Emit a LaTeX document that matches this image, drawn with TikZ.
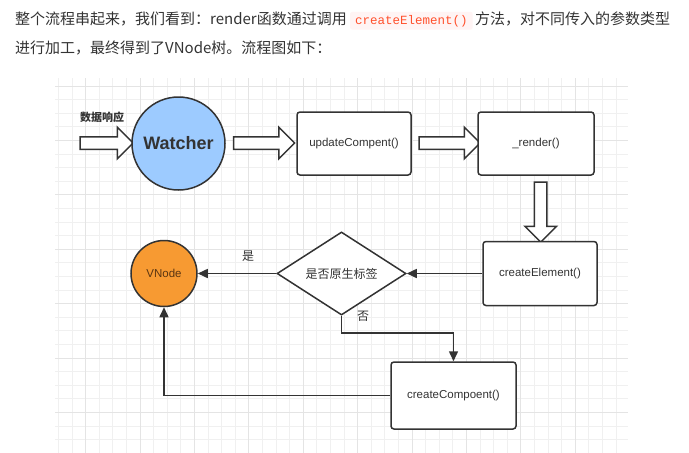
\documentclass[tikz,border=0pt]{standalone}
\usepackage{fontspec}
\setmainfont{Noto Sans CJK SC}
\newfontfamily\hv{Liberation Sans}
\newfontfamily\codefont{Liberation Mono}
\usetikzlibrary{shapes.geometric,shapes.arrows,arrows.meta}
\definecolor{ink}{HTML}{333333}
\definecolor{txt}{HTML}{333333}
\definecolor{codered}{HTML}{FF502C}
\definecolor{codebg}{HTML}{FFF4F4}
\definecolor{gridminor}{HTML}{F0F0F0}
\definecolor{gridmajor}{HTML}{E4E4E4}
\definecolor{watcherblue}{HTML}{9DCBFF}
\definecolor{vnodeorange}{HTML}{F79A32}
\definecolor{vnodetext}{HTML}{5A3511}
\tikzset{
  para/.style={inner sep=0pt, text=txt, font=\fontsize{15}{18}\selectfont},
  codebox/.style={inner xsep=5pt, inner ysep=3pt, fill=codebg, rounded corners=2pt, text=codered, font=\codefont\fontsize{12.5}{14}\selectfont},
  boxnode/.style={draw=ink, line width=1.5pt, rounded corners=3pt, fill=white, text=txt, font=\hv\fontsize{11.5}{13}\selectfont},
  blockarrow/.style={single arrow, draw=ink, line width=1.5pt, fill=white, inner xsep=0pt, inner ysep=5.5pt, single arrow head extend=9.5pt, single arrow tip angle=90, anchor=center},
  conn/.style={draw=ink, line width=1.5pt, -{Triangle[length=10pt,width=9pt]}},
  lbl/.style={text=txt, font=\fontsize{12}{14}\selectfont, inner sep=0pt},
}
\begin{document}
\begin{tikzpicture}[x=1pt,y=-1pt]
\useasboundingbox (0,0) rectangle (689,453);
\fill[white] (0,0) rectangle (689,453);
% grid
\begin{scope}
\clip (55,78) rectangle (628,453);
\foreach \k in {-2,...,39} \draw[gridminor, line width=1pt] ({85.7+13.6*\k},78) -- ({85.7+13.6*\k},453);
\foreach \k in {-20,...,7} \draw[gridminor, line width=1pt] (55,{358+13.6*\k}) -- (628,{358+13.6*\k});
\foreach \k in {0,4,...,36} \draw[gridmajor, line width=1pt] ({85.7+13.6*\k},78) -- ({85.7+13.6*\k},453);
\foreach \k in {-20,-16,...,4} \draw[gridmajor, line width=1pt] (55,{358+13.6*\k}) -- (628,{358+13.6*\k});
\end{scope}
% paragraph
\node[para, anchor=base west] (t1) at (15,24) {整个流程串起来，我们看到：render函数通过调用};
\node[codebox, anchor=base west] (code) at ([xshift=3pt]t1.base east) {createElement()};
\node[para, anchor=base west] (t2) at ([xshift=2pt]code.base east) {方法，对不同传入的参数类型};
\node[para, anchor=base west] (t3) at (15,53) {进行加工，最终得到了VNode树。流程图如下：};
% diagram nodes
\node[lbl, font=\bfseries\fontsize{11}{13}\selectfont] (l0) at (102,117) {数据响应};
\node[blockarrow, minimum height=53pt] (a1) at (103.5,143) {};
\node[circle, draw=ink, line width=1.5pt, fill=watcherblue, minimum size=93pt, inner sep=0pt, text=ink, font=\hv\bfseries\fontsize{18}{20}\selectfont] (watcher) at (178.5,143.5) {Watcher};
\node[blockarrow, minimum height=61pt] (a2) at (261,143) {};
\node[boxnode, minimum width=114pt, minimum height=63pt] (upd) at (354,143.5) {updateCompent()};
\node[blockarrow, minimum height=61pt] (a3) at (446.5,143) {};
\node[boxnode, minimum width=116pt, minimum height=63pt] (rend) at (536,143.5) {\_render()};
\node[blockarrow, minimum height=60pt, rotate=-90] (a4) at (540.7,209) {};
\node[boxnode, minimum width=114pt, minimum height=64pt] (ce) at (540,273.5) {createElement()};
\node[diamond, draw=ink, line width=1.5pt, fill=white, minimum width=129pt, minimum height=63pt, inner sep=0pt, text=txt, font=\fontsize{12}{14}\selectfont] (dia) at (341.5,273.5) {是否原生标签};
\node[circle, draw=ink, line width=1.5pt, fill=vnodeorange, minimum size=66pt, inner sep=0pt, text=vnodetext, font=\hv\fontsize{11.5}{13}\selectfont] (vnode) at (164,273.5) {VNode};
\node[boxnode, minimum width=125pt, minimum height=67pt] (cc) at (453.5,395.5) {createCompoent()};
\node[lbl] (yes) at (248,256) {是};
\node[lbl] (no) at (363,316) {否};
\coordinate (mid) at (400,333);
% connectors
\draw[conn] (ce.west) -- (dia.east);
\draw[conn] (dia.west) -- (vnode.east);
\draw[conn] (dia.south) |- (mid) -| (cc.north);
\draw[conn] (cc.west) -| (vnode.south);
\end{tikzpicture}
\end{document}
